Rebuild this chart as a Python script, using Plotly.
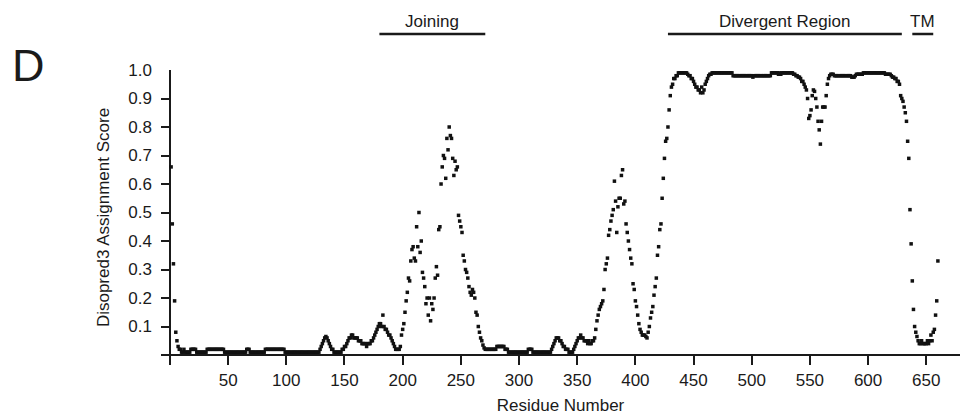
import plotly.graph_objects as go

# Disopred3 scores per residue
scores_001_100 = [
    0.66, 0.46, 0.32, 0.19, 0.08, 0.05, 0.03, 0.02, 0.02, 0.01,
    0.01, 0.02, 0.01, 0.01, 0.01, 0.01, 0.01, 0.02, 0.02, 0.02,
    0.02, 0.02, 0.01, 0.01, 0.01, 0.01, 0.01, 0.01, 0.01, 0.01,
    0.01, 0.02, 0.02, 0.02, 0.02, 0.02, 0.02, 0.02, 0.02, 0.02,
    0.02, 0.02, 0.02, 0.02, 0.02, 0.02, 0.01, 0.01, 0.01, 0.01,
    0.01, 0.01, 0.01, 0.01, 0.01, 0.01, 0.01, 0.01, 0.01, 0.01,
    0.01, 0.01, 0.01, 0.01, 0.01, 0.02, 0.02, 0.02, 0.01, 0.01,
    0.01, 0.01, 0.01, 0.01, 0.01, 0.01, 0.01, 0.01, 0.01, 0.01,
    0.01, 0.02, 0.02, 0.02, 0.02, 0.02, 0.02, 0.02, 0.02, 0.02,
    0.02, 0.02, 0.02, 0.02, 0.02, 0.02, 0.02, 0.02, 0.01, 0.01,
]
scores_101_200 = [
    0.01, 0.01, 0.01, 0.01, 0.01, 0.01, 0.01, 0.01, 0.01, 0.01,
    0.01, 0.01, 0.01, 0.01, 0.01, 0.01, 0.01, 0.01, 0.01, 0.01,
    0.01, 0.01, 0.01, 0.01, 0.01, 0.01, 0.01, 0.01, 0.02, 0.03,
    0.04, 0.05, 0.06, 0.065, 0.06, 0.05, 0.04, 0.03, 0.02, 0.02,
    0.01, 0.01, 0.01, 0.01, 0.01, 0.01, 0.01, 0.02, 0.02, 0.03,
    0.03, 0.04, 0.05, 0.06, 0.06, 0.07, 0.07, 0.06, 0.06, 0.06,
    0.06, 0.05, 0.05, 0.05, 0.04, 0.04, 0.04, 0.04, 0.03, 0.04,
    0.04, 0.04, 0.05, 0.05, 0.06, 0.07, 0.08, 0.09, 0.10, 0.11,
    0.11, 0.10, 0.14, 0.10, 0.09, 0.09, 0.08, 0.07, 0.07, 0.06,
    0.05, 0.04, 0.03, 0.02, 0.02, 0.02, 0.02, 0.03, 0.07, 0.09,
]
scores_201_300 = [
    0.11, 0.15, 0.19, 0.22, 0.27, 0.26, 0.33, 0.37, 0.38, 0.34,
    0.33, 0.45, 0.38, 0.50, 0.36, 0.40, 0.29, 0.27, 0.24, 0.18,
    0.20, 0.14, 0.20, 0.12, 0.18, 0.16, 0.20, 0.27, 0.31, 0.28,
    0.44, 0.45, 0.60, 0.66, 0.70, 0.69, 0.62, 0.76, 0.72, 0.80,
    0.77, 0.76, 0.69, 0.63, 0.68, 0.65, 0.66, 0.49, 0.47, 0.45,
    0.43, 0.35, 0.33, 0.30, 0.29, 0.27, 0.24, 0.22, 0.21, 0.23,
    0.22, 0.20, 0.15, 0.14, 0.10, 0.08, 0.06, 0.05, 0.035, 0.025,
    0.02, 0.02, 0.02, 0.02, 0.02, 0.02, 0.02, 0.02, 0.02, 0.02,
    0.03, 0.03, 0.03, 0.03, 0.03, 0.03, 0.03, 0.02, 0.02, 0.02,
    0.01, 0.01, 0.01, 0.01, 0.01, 0.01, 0.01, 0.01, 0.01, 0.01,
]
scores_301_400 = [
    0.01, 0.01, 0.01, 0.01, 0.01, 0.01, 0.01, 0.02, 0.02, 0.02,
    0.02, 0.01, 0.01, 0.01, 0.01, 0.01, 0.01, 0.01, 0.01, 0.01,
    0.01, 0.01, 0.01, 0.01, 0.01, 0.01, 0.01, 0.02, 0.03, 0.04,
    0.05, 0.06, 0.06, 0.06, 0.05, 0.05, 0.04, 0.03, 0.03, 0.02,
    0.02, 0.02, 0.01, 0.01, 0.01, 0.01, 0.02, 0.03, 0.04, 0.05,
    0.06, 0.06, 0.07, 0.06, 0.06, 0.05, 0.05, 0.05, 0.04, 0.05,
    0.04, 0.04, 0.05, 0.05, 0.06, 0.09, 0.12, 0.14, 0.16, 0.17,
    0.18, 0.19, 0.23, 0.30, 0.32, 0.34, 0.42, 0.44, 0.47, 0.49,
    0.51, 0.61, 0.54, 0.43, 0.52, 0.55, 0.55, 0.63, 0.65, 0.53,
    0.54, 0.46, 0.43, 0.40, 0.37, 0.34, 0.32, 0.25, 0.23, 0.19,
]
scores_401_500 = [
    0.17, 0.14, 0.11, 0.09, 0.08, 0.07, 0.07, 0.07, 0.065, 0.06,
    0.08, 0.10, 0.13, 0.15, 0.17, 0.21, 0.24, 0.27, 0.35, 0.38,
    0.44, 0.46, 0.55, 0.62, 0.69, 0.75, 0.76, 0.80, 0.86, 0.91,
    0.94, 0.95, 0.97, 0.97, 0.98, 0.98, 0.99, 0.99, 0.99, 0.99,
    0.99, 0.99, 0.99, 0.99, 0.985, 0.98, 0.98, 0.97, 0.97, 0.96,
    0.95, 0.94, 0.94, 0.93, 0.93, 0.92, 0.94, 0.92, 0.93, 0.95,
    0.96, 0.97, 0.98, 0.985, 0.985, 0.99, 0.99, 0.99, 0.99, 0.99,
    0.99, 0.99, 0.99, 0.99, 0.99, 0.99, 0.99, 0.99, 0.99, 0.99,
    0.99, 0.99, 0.99, 0.98, 0.98, 0.98, 0.98, 0.98, 0.98, 0.98,
    0.98, 0.98, 0.98, 0.98, 0.98, 0.98, 0.98, 0.98, 0.98, 0.98,
]
scores_501_600 = [
    0.975, 0.98, 0.98, 0.98, 0.98, 0.98, 0.98, 0.98, 0.98, 0.98,
    0.98, 0.98, 0.98, 0.98, 0.98, 0.98, 0.99, 0.99, 0.99, 0.99,
    0.99, 0.99, 0.985, 0.99, 0.985, 0.99, 0.99, 0.99, 0.99, 0.99,
    0.99, 0.99, 0.99, 0.99, 0.99, 0.985, 0.985, 0.98, 0.98, 0.975,
    0.975, 0.97, 0.96, 0.96, 0.95, 0.94, 0.93, 0.90, 0.83, 0.84,
    0.86, 0.91, 0.93, 0.925, 0.90, 0.87, 0.82, 0.79, 0.74, 0.82,
    0.87, 0.87, 0.87, 0.91, 0.95, 0.97, 0.98, 0.985, 0.985, 0.985,
    0.98, 0.98, 0.98, 0.98, 0.98, 0.98, 0.98, 0.98, 0.98, 0.98,
    0.98, 0.98, 0.98, 0.98, 0.98, 0.975, 0.975, 0.975, 0.98, 0.985,
    0.985, 0.985, 0.985, 0.985, 0.985, 0.99, 0.99, 0.99, 0.99, 0.99,
]
scores_601_660 = [
    0.99, 0.99, 0.99, 0.99, 0.99, 0.99, 0.99, 0.99, 0.99, 0.99,
    0.99, 0.99, 0.99, 0.99, 0.985, 0.985, 0.985, 0.985, 0.985, 0.98,
    0.975, 0.975, 0.97, 0.97, 0.96, 0.96, 0.95, 0.91, 0.90, 0.89,
    0.87, 0.85, 0.82, 0.75, 0.69, 0.51, 0.39, 0.26, 0.16, 0.10,
    0.08, 0.065, 0.05, 0.04, 0.04, 0.05, 0.04, 0.04, 0.04, 0.04,
    0.05, 0.04, 0.05, 0.07, 0.05, 0.08, 0.09, 0.14, 0.19, 0.33,
]

scores = (scores_001_100 + scores_101_200 + scores_201_300 + scores_301_400
          + scores_401_500 + scores_501_600 + scores_601_660)
residues = list(range(1, len(scores) + 1))

x_ticks = [50, 100, 150, 200, 250, 300, 350, 400, 450, 500, 550, 600, 650]
y_ticks = [0.1, 0.2, 0.3, 0.4, 0.5, 0.6, 0.7, 0.8, 0.9, 1.0]
y_tick_labels = ["0.1", "0.2", "0.3", "0.4", "0.5", "0.6", "0.7", "0.8", "0.9", "1.0"]

region_labels = ["Joining", "Divergent Region", "TM"]
region_starts = [180, 428, 638]
region_ends = [271, 629, 656]

FONT = "Liberation Sans, Arial, sans-serif"
INK = "#1a1a1a"

# page body has an 8px default margin; figure sized so the plot lands where the reference has it
W, H = 960, 407
ML, MT, MR, MB = 153, 62, 8, 50
PH = H - MT - MB


def paper_y(px_from_top):
    return (MT + PH - px_from_top) / PH


fig = go.Figure(
    go.Scatter(
        x=residues, y=scores, mode="markers",
        marker=dict(symbol="square", size=3.5, color="#111111", line=dict(width=0)),
        cliponaxis=False, hoverinfo="x+y",
    )
)

fig.update_layout(
    width=W, height=H,
    margin=dict(l=ML, r=MR, t=MT, b=MB, autoexpand=False),
    paper_bgcolor="white", plot_bgcolor="white",
    showlegend=False,
    font=dict(family=FONT, size=17, color=INK),
    xaxis=dict(
        range=[-7.7, 679], tickvals=x_ticks, ticks="inside", ticklen=10,
        tickwidth=1.6, tickcolor=INK, showgrid=False, showline=False,
        zeroline=True, zerolinecolor=INK, zerolinewidth=2,
        tickfont=dict(size=17, color=INK), ticklabelstandoff=3,
        title=dict(text="Residue Number", font=dict(size=17, color=INK), standoff=20),
    ),
    yaxis=dict(
        range=[-0.035, 1.0], tickvals=y_ticks, ticktext=y_tick_labels,
        ticks="inside", ticklen=9, tickwidth=1.6, tickcolor=INK,
        showgrid=False, showline=False,
        zeroline=True, zerolinecolor=INK, zerolinewidth=2,
        tickfont=dict(size=17, color=INK), ticklabelstandoff=8,
        title=dict(text="Disopred3 Assignment Score", font=dict(size=17, color=INK), standoff=14),
    ),
)

for lab, s, e in zip(region_labels, region_starts, region_ends):
    fig.add_shape(type="line", xref="x", yref="paper", x0=s, x1=e,
                  y0=paper_y(26), y1=paper_y(26), line=dict(color=INK, width=2.5))
    fig.add_annotation(text=lab, xref="x", yref="paper", x=(s + e) / 2, y=paper_y(14),
                       xanchor="center", yanchor="middle", showarrow=False,
                       font=dict(size=17, color=INK, family=FONT))

fig.add_annotation(text="D", xref="paper", yref="paper",
                   x=(2 - ML) / (W - ML - MR), y=paper_y(57),
                   xanchor="left", yanchor="middle", showarrow=False,
                   font=dict(size=45, color=INK, family=FONT))

fig.write_html("out.html")
